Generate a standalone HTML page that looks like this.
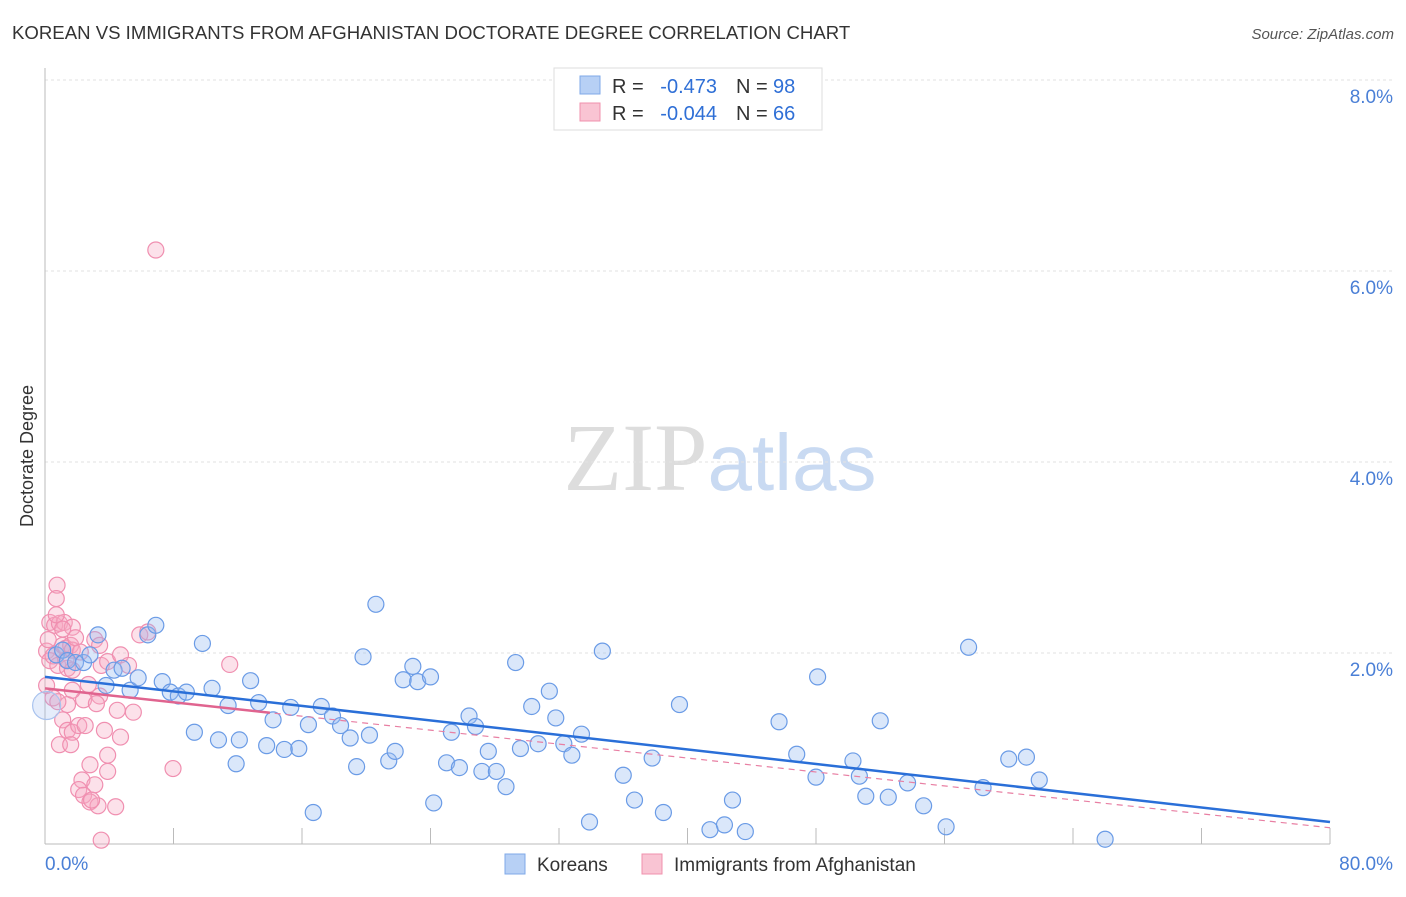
<!DOCTYPE html>
<html><head><meta charset="utf-8"><style>
body{margin:0;background:#fff;font-family:"Liberation Sans",sans-serif}
</style></head><body>
<svg id="chart" width="1406" height="892" xmlns="http://www.w3.org/2000/svg" font-family="Liberation Sans, sans-serif">
<text x="12" y="39" font-size="18.6" fill="#333">KOREAN VS IMMIGRANTS FROM AFGHANISTAN DOCTORATE DEGREE CORRELATION CHART</text>
<text x="1394" y="39" font-size="15" fill="#555" text-anchor="end" font-style="italic">Source: ZipAtlas.com</text>
<text x="720" y="490" font-size="96" text-anchor="middle"><tspan fill="#ddd" font-family="Liberation Serif, serif">ZIP</tspan><tspan fill="#c9daf2" font-size="80">atlas</tspan></text>
<g id="grid"></g><g id="axes"></g>
<g id="pink"></g><g id="blue"></g><g id="lines"></g>
<text transform="translate(33,456) rotate(-90)" font-size="18" fill="#333" text-anchor="middle">Doctorate Degree</text>
<g>
<rect x="554" y="68" width="268" height="62" fill="#fff" stroke="#ddd"/>
<rect x="580" y="76" width="20" height="18" fill="#b7d0f5" stroke="#7fa9e8"/>
<rect x="580" y="103" width="20" height="18" fill="#f9c4d3" stroke="#f091ad"/>
<text x="612" y="93" font-size="20" fill="#333">R =</text>
<text x="717" y="93" font-size="20" fill="#2f6fd6" text-anchor="end">-0.473</text>
<text x="736" y="93" font-size="20" fill="#333">N =</text>
<text x="773" y="93" font-size="20" fill="#2f6fd6">98</text>
<text x="612" y="120" font-size="20" fill="#333">R =</text>
<text x="717" y="120" font-size="20" fill="#2f6fd6" text-anchor="end">-0.044</text>
<text x="736" y="120" font-size="20" fill="#333">N =</text>
<text x="773" y="120" font-size="20" fill="#2f6fd6">66</text>
</g>
<g>
<rect x="505" y="854" width="20" height="20" fill="#b7d0f5" stroke="#7fa9e8"/>
<text x="537" y="871" font-size="19" fill="#333">Koreans</text>
<rect x="642" y="854" width="20" height="20" fill="#f9c4d3" stroke="#f091ad"/>
<text x="674" y="871" font-size="19" fill="#333">Immigrants from Afghanistan</text>
</g>
</svg>
<script>
const yTicks=[2,4,6,8];
const xTickLabels=["0.0%","80.0%"];
const blueX=[0.1,0.7,1.1,1.4,1.9,2.4,2.8,3.3,3.8,4.3,4.8,5.3,5.8,6.4,6.9,7.3,7.8,8.3,8.8,9.3,9.8,10.4,10.8,11.4,11.9,12.1,12.8,13.3,13.8,14.2,14.9,15.3,15.8,16.4,16.7,17.2,17.9,18.4,19.0,19.4,19.8,20.2,20.6,21.4,21.8,22.3,22.9,23.2,24.0,24.2,25.0,25.3,25.8,26.4,26.8,27.2,27.6,28.1,28.7,29.3,29.6,30.3,30.7,31.4,31.8,32.3,32.8,33.4,33.9,34.7,36.0,36.7,37.8,38.5,39.5,41.4,42.3,42.8,43.6,45.7,46.8,48.0,48.1,50.3,50.7,51.1,52.0,52.5,53.7,54.7,56.1,57.5,58.4,60.0,61.1,61.9,66.0];
const blueY=[1.45,1.98,2.03,1.92,1.90,1.90,1.98,2.19,1.66,1.82,1.84,1.61,1.74,2.19,2.29,1.70,1.59,1.55,1.59,1.17,2.10,1.63,1.09,1.45,0.84,1.09,1.71,1.48,1.03,1.30,0.99,1.43,1.00,1.25,0.33,1.44,1.34,1.24,1.11,0.81,1.96,1.14,2.51,0.87,0.97,1.72,1.86,1.70,1.75,0.43,0.85,1.17,0.80,1.34,1.23,0.76,0.97,0.76,0.60,1.90,1.00,1.44,1.05,1.60,1.32,1.05,0.93,1.15,0.23,2.02,0.72,0.46,0.90,0.33,1.46,0.15,0.20,0.46,0.13,1.28,0.94,0.70,1.75,0.87,0.71,0.50,1.29,0.49,0.64,0.40,0.18,2.06,0.59,0.89,0.91,0.67,0.05];
const pinkX=[0.75,0.7,0.3,0.6,0.9,1.2,1.7,0.1,0.3,0.5,0.8,1.1,1.3,1.6,1.4,1.7,3.1,3.4,3.5,3.9,4.7,5.2,5.9,6.4,0.1,0.5,1.4,2.4,2.7,1.7,3.4,1.1,1.4,1.7,2.1,2.5,3.7,4.7,0.9,1.6,3.9,2.8,3.9,2.3,2.1,3.1,2.4,2.8,3.3,4.4,2.9,3.5,7.97,6.9,11.5,4.5,5.5,3.2,0.8,1.3,1.7,1.9,0.2,0.7,1.1,2.2];
const pinkY=[2.71,2.57,2.32,2.29,2.31,2.32,2.27,2.02,1.92,1.97,1.87,2.08,2.05,2.08,1.84,1.82,2.14,2.08,1.87,1.91,1.98,1.87,2.19,2.22,1.66,1.53,1.46,1.51,1.67,1.61,1.55,1.30,1.19,1.17,1.24,1.24,1.19,1.12,1.04,1.04,0.93,0.83,0.76,0.67,0.57,0.62,0.51,0.44,0.40,0.39,0.46,0.04,0.79,6.22,1.88,1.40,1.38,1.47,1.49,1.93,2.03,2.16,2.14,2.40,2.25,2.01];
const blueTrend=[1.75,0.23];
const pinkTrend=[1.63,0.17];
const X=v=>45+v*16.0625, Y=v=>844-v*95.5;
const NS="http://www.w3.org/2000/svg";
function mk(t,a,p){const e=document.createElementNS(NS,t);for(const k in a)e.setAttribute(k,a[k]);p.appendChild(e);return e;}
const grid=document.getElementById('grid'),axes=document.getElementById('axes');
yTicks.forEach(v=>{const l=mk('line',{x1:45,x2:1393,y1:Y(v),y2:Y(v),stroke:'#e2e2e2','stroke-dasharray':'3,3'},grid);


const t=mk('text',{x:1393,y:Y(v)+23,'font-size':19,fill:'#4a7fd6','text-anchor':'end'},axes);t.textContent=v.toFixed(1)+'%';

});
const ax=mk('line',{x1:45,x2:45,y1:68,y2:844,stroke:'#bbb'},axes);


const bx=mk('line',{x1:45,x2:1330,y1:844,y2:844,stroke:'#bbb'},axes);


for(let i=1;i<=10;i++){const l=mk('line',{x1:X(i*8),x2:X(i*8),y1:828,y2:844,stroke:'#bbb'},axes);

}
[[0,'start',45],[1,'end',1393]].forEach(([i,a,x])=>{const t=mk('text',{x:x,y:870,'font-size':19,fill:'#4a7fd6','text-anchor':a},axes);t.textContent=xTickLabels[i];

});
const pg=document.getElementById('pink'),bg=document.getElementById('blue');
pinkX.forEach((x,i)=>{const c=mk('circle',{cx:X(x),cy:Y(pinkY[i]),r:8,fill:'rgba(246,170,195,0.35)',stroke:'#f08fb0','stroke-width':1.2},pg);

});
blueX.forEach((x,i)=>{const c=mk('circle',{cx:X(x),cy:Y(blueY[i]),r:i==0?14:8,fill:i==0?'rgba(150,185,240,0.25)':'rgba(150,185,240,0.35)',stroke:i==0?'#a9c3ee':'#6a9be6','stroke-width':1.2},bg);

});
const lg=document.getElementById('lines');
const pd=mk('line',{x1:X(0),y1:Y(pinkTrend[0]),x2:X(80),y2:Y(pinkTrend[1]),stroke:'#e87fa3','stroke-width':1.2,'stroke-dasharray':'6,5'},lg);


const f=14/80;
const ps=mk('line',{x1:X(0),y1:Y(pinkTrend[0]),x2:X(14),y2:Y(pinkTrend[0]+(pinkTrend[1]-pinkTrend[0])*f),stroke:'#e0648f','stroke-width':2.5},lg);


const bl=mk('line',{x1:X(0),y1:Y(blueTrend[0]),x2:X(80),y2:Y(blueTrend[1]),stroke:'#2a6fd8','stroke-width':2.5},lg);


</script>
</body></html>
